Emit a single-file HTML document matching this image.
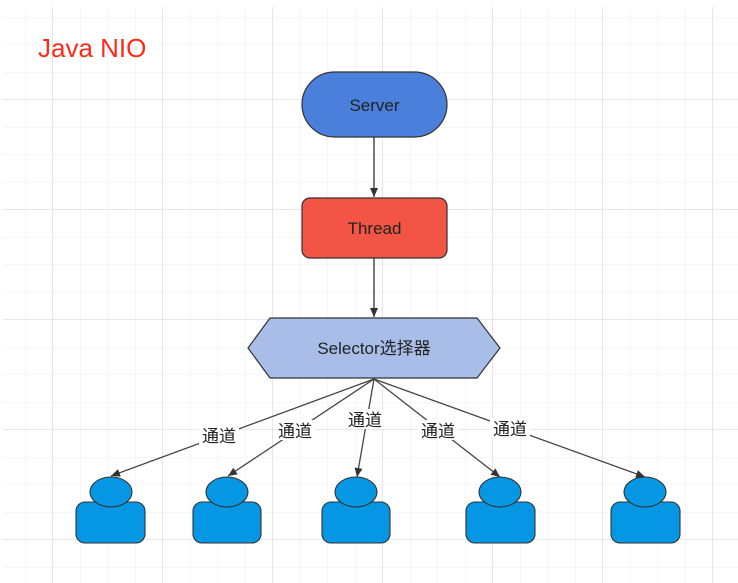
<!DOCTYPE html>
<html><head><meta charset="utf-8"><style>
html,body{margin:0;padding:0;background:#fff;}
svg{display:block;}
text{font-family:"Liberation Sans","Noto Sans CJK SC",sans-serif;}
</style></head><body>
<svg width="738" height="583" viewBox="0 0 738 583" xmlns="http://www.w3.org/2000/svg">
<defs>
<pattern id="minor" x="-2" y="-10" width="27.5" height="27.5" patternUnits="userSpaceOnUse">
<path d="M27.5 0V27.5M0 27.5H27.5" stroke="#ececec" stroke-width="1" fill="none"/>
</pattern>
<pattern id="major" x="-57" y="-10" width="110" height="110" patternUnits="userSpaceOnUse">
<path d="M110 0V110M0 110H110" stroke="#d9d9d9" stroke-width="1.3" fill="none"/>
</pattern>
<marker id="ar" markerWidth="10" markerHeight="10" refX="9" refY="5" orient="auto" markerUnits="userSpaceOnUse">
<path d="M0,1 L9,5 L0,9 z" fill="#333"/>
</marker>
</defs>
<rect x="3" y="7" width="735" height="576" fill="url(#minor)"/>
<rect x="3" y="7" width="735" height="576" fill="url(#major)"/>
<text x="38" y="57" font-size="26" fill="#ff2a1a">Java NIO</text>

<rect x="302" y="72" width="145" height="65" rx="32.5" fill="#4a7fdc" stroke="#333" stroke-width="1.2"/>
<text x="374.5" y="111" font-size="17" fill="#222" text-anchor="middle">Server</text>
<line x1="374" y1="137" x2="374" y2="197" stroke="#333" stroke-width="1.3" marker-end="url(#ar)"/>
<rect x="302" y="198" width="145" height="60" rx="8" fill="#f25545" stroke="#333" stroke-width="1.2"/>
<text x="374.5" y="234" font-size="17" fill="#222" text-anchor="middle">Thread</text>
<line x1="374" y1="258" x2="374" y2="317" stroke="#333" stroke-width="1.3" marker-end="url(#ar)"/>
<polygon points="248,348 270,318 477,318 500,348 477,378 270,378" fill="#a8bde8" stroke="#333" stroke-width="1.2"/>
<text x="374" y="354" font-size="17" fill="#222" text-anchor="middle">Selector选择器</text>

<g stroke="#444" stroke-width="1.3" fill="none">
<line x1="374" y1="379" x2="111" y2="476" marker-end="url(#ar)"/>
<line x1="374" y1="379" x2="228" y2="476" marker-end="url(#ar)"/>
<line x1="374" y1="379" x2="357" y2="477" marker-end="url(#ar)"/>
<line x1="374" y1="379" x2="500" y2="477" marker-end="url(#ar)"/>
<line x1="374" y1="379" x2="645" y2="477" marker-end="url(#ar)"/>
</g>
<g font-size="17" fill="#222" text-anchor="middle">
<rect x="199" y="425" width="40" height="20" fill="#fff"/><text x="219" y="442">通道</text>
<rect x="275" y="420" width="40" height="20" fill="#fff"/><text x="295" y="437">通道</text>
<rect x="345" y="409" width="40" height="20" fill="#fff"/><text x="365" y="426">通道</text>
<rect x="418" y="420" width="40" height="20" fill="#fff"/><text x="438" y="437">通道</text>
<rect x="490" y="418" width="40" height="20" fill="#fff"/><text x="510" y="435">通道</text>
</g>
<g fill="#0596e4" stroke="#333" stroke-width="1.1">
<rect x="76" y="502" width="69" height="41" rx="9"/><ellipse cx="111" cy="492" rx="21" ry="15"/>
<rect x="193" y="502" width="68" height="41" rx="9"/><ellipse cx="227" cy="492" rx="21" ry="15"/>
<rect x="322" y="502" width="68" height="41" rx="9"/><ellipse cx="356" cy="492" rx="21" ry="15"/>
<rect x="466" y="502" width="69" height="41" rx="9"/><ellipse cx="500" cy="492" rx="21" ry="15"/>
<rect x="611" y="502" width="69" height="41" rx="9"/><ellipse cx="645" cy="492" rx="21" ry="15"/>
</g>
</svg>
</body></html>
